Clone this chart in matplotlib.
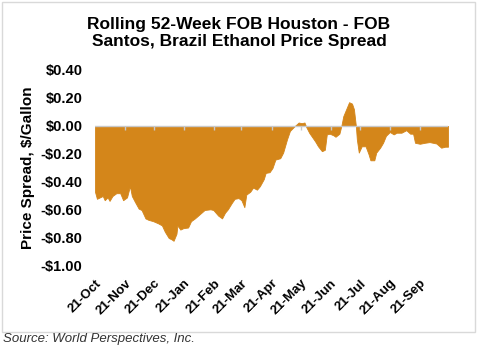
import matplotlib
matplotlib.use("Agg")
import matplotlib.pyplot as plt
from matplotlib.patches import Rectangle
import pandas as pd

dates = ["2020-10-21","2020-10-23","2020-10-26","2020-10-29","2020-10-31","2020-11-03","2020-11-05",
         "2020-11-08","2020-11-12","2020-11-16","2020-11-19","2020-11-23","2020-11-26","2020-11-28",
         "2020-12-01","2020-12-05","2020-12-08","2020-12-12","2020-12-15","2020-12-20","2020-12-25",
         "2020-12-29","2021-01-01","2021-01-05","2021-01-08","2021-01-10","2021-01-13","2021-01-14",
         "2021-01-17","2021-01-20","2021-01-25","2021-01-28","2021-02-01","2021-02-06","2021-02-11",
         "2021-02-17","2021-02-20","2021-02-25","2021-03-01","2021-03-04","2021-03-07","2021-03-11",
         "2021-03-14","2021-03-18","2021-03-21","2021-03-24","2021-03-26","2021-03-30","2021-04-02",
         "2021-04-06","2021-04-09","2021-04-13","2021-04-15","2021-04-19","2021-04-22","2021-04-25",
         "2021-04-30","2021-05-03","2021-05-07","2021-05-10","2021-05-15","2021-05-19","2021-05-22",
         "2021-05-25","2021-05-27","2021-05-30","2021-06-05","2021-06-08","2021-06-12","2021-06-15",
         "2021-06-17","2021-06-20","2021-06-24","2021-06-26","2021-06-30","2021-07-02","2021-07-04",
         "2021-07-07","2021-07-10","2021-07-13","2021-07-15","2021-07-17","2021-07-18","2021-07-20",
         "2021-07-23","2021-07-27","2021-07-30","2021-08-01","2021-08-05","2021-08-07","2021-08-11",
         "2021-08-14","2021-08-17","2021-08-21","2021-08-25","2021-08-28","2021-09-02","2021-09-07",
         "2021-09-11","2021-09-14","2021-09-16","2021-09-21","2021-09-26","2021-10-01","2021-10-08",
         "2021-10-13","2021-10-17","2021-10-20"]
spread = [-0.47,-0.52,-0.51,-0.50,-0.53,-0.51,-0.535,
          -0.50,-0.48,-0.48,-0.53,-0.51,-0.43,-0.50,
          -0.54,-0.59,-0.60,-0.66,-0.67,-0.68,-0.695,
          -0.71,-0.755,-0.80,-0.81,-0.82,-0.77,-0.71,
          -0.74,-0.73,-0.725,-0.68,-0.66,-0.63,-0.60,
          -0.595,-0.60,-0.64,-0.66,-0.62,-0.595,-0.55,
          -0.52,-0.515,-0.53,-0.58,-0.49,-0.47,-0.44,
          -0.455,-0.43,-0.38,-0.335,-0.33,-0.30,-0.24,
          -0.23,-0.19,-0.095,-0.035,0.0,0.025,0.02,
          0.025,-0.01,-0.05,-0.11,-0.145,-0.18,-0.17,
          -0.06,-0.055,-0.067,-0.077,-0.055,0.0,0.07,
          0.12,0.17,0.16,0.12,0.0,-0.095,-0.19,
          -0.145,-0.145,-0.20,-0.245,-0.245,-0.19,-0.155,
          -0.12,-0.07,-0.043,-0.06,-0.048,-0.048,-0.03,
          -0.055,-0.055,-0.12,-0.127,-0.12,-0.115,-0.125,
          -0.155,-0.148,-0.148]
yticks = [0.4, 0.2, 0.0, -0.2, -0.4, -0.6, -0.8, -1.0]
month_ticks = pd.date_range("2020-10-21", "2021-09-21", freq=pd.DateOffset(months=1))

title = "Rolling 52-Week FOB Houston - FOB\nSantos, Brazil Ethanol Price Spread"
ylabel = "Price Spread, $/Gallon"
source = "Source: World Perspectives, Inc."

plt.rcParams['font.family'] = ['Liberation Sans', 'DejaVu Sans']

x = pd.to_datetime(dates)
fig = plt.figure(figsize=(4.78, 3.45), dpi=100)
fig.patches.append(Rectangle((2/478, 1 - 332/345), 473/478, 330/345, transform=fig.transFigure,
                             fill=False, edgecolor='#d9d9d9', linewidth=1.0))
ax = fig.add_axes([95/478, 1 - 266/345, (448 - 95)/478, (266 - 70)/345])
ax.fill_between(x, spread, 0, color='#D4861A', linewidth=0.6, edgecolor='#D4861A', zorder=2)
ax.axhline(0, color='#c8c8c8', linewidth=1.0, zorder=3)
ax.vlines(month_ticks[1:], -0.025, 0, color='#c8c8c8', linewidth=1.0, zorder=3)

ax.set_xlim(x[0], x[-1])
ax.set_ylim(-1.0, 0.4)
ax.set_yticks(yticks)
ax.set_yticklabels([("-$%.2f" % abs(v)) if v < 0 else ("$%.2f" % v) for v in yticks],
                   fontsize=10.5, fontweight='bold')
ax.set_xticks(month_ticks)
ax.set_xticklabels([d.strftime("%d-%b") for d in month_ticks], rotation=45, ha='right',
                   rotation_mode='anchor', fontsize=9.5, fontweight='bold')
ax.tick_params(axis='both', length=0)
ax.tick_params(axis='y', pad=9)
ax.tick_params(axis='x', pad=8)
for s in ax.spines.values():
    s.set_visible(False)
ax.set_ylabel(ylabel, fontsize=11, fontweight='bold', labelpad=4)

fig.text(239/478, 1 - 33/345, title, ha='center', va='center', fontsize=12.5,
         fontweight='bold', linespacing=1.2)
fig.text(3/478, 1 - 333/345, source, ha='left', va='top', fontsize=9.5, style='italic',
         color='#333333')
fig.savefig("out.png", dpi=100)
